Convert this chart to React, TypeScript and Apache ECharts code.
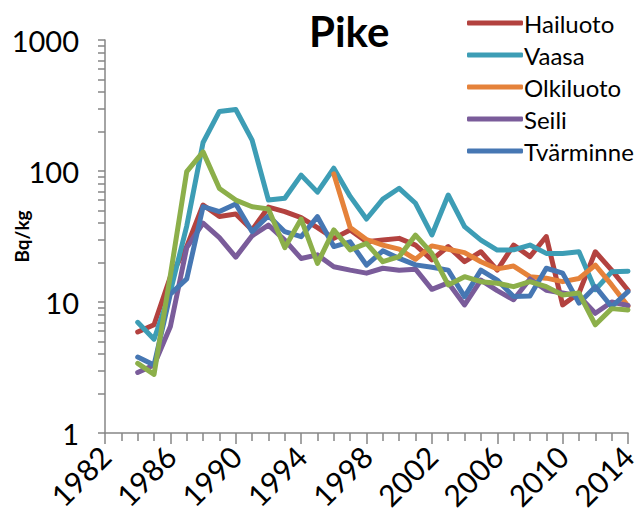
import React, { useEffect, useRef } from "react";
import * as echarts from "echarts";

const years = [
  1984, 1985, 1986, 1987, 1988, 1989, 1990, 1991, 1992, 1993, 1994, 1995, 1996, 1997, 1998, 1999,
  2000, 2001, 2002, 2003, 2004, 2005, 2006, 2007, 2008, 2009, 2010, 2011, 2012, 2013, 2014,
];

const hailuoto = [
  5.9, 6.7, 15.6, 26.5, 55, 45, 47, 35.5, 53, 49, 44, 37, 30.6, 35.4, 28.8, 29.7,
  30.6, 27.2, 21, 26.5, 20.3, 24.2, 17.5, 27.2, 22.2, 31.6, 9.5, 11.7, 24.2, 17.5, 12.3,
];
const vaasa = [
  7.0, 5.2, 12, 38, 165, 285, 295, 172, 60, 62, 93, 69, 105, 64, 43, 61,
  73.8, 56.7, 32.5, 65.6, 37.6, 29.7, 24.9, 25, 27.2, 23.5, 23.5, 24.2, 12.4, 17, 17.2,
];
const olkiluoto = [
  null, null, null, null, null, null, null, null, null, null, null, null, 95, 37, 30, 27.2,
  25.3, 21.2, 26.8, 25.3, 23.8, 20.3, 17.9, 18.8, 15.6, 15.2, 14.3, 15.1, 19.1, 13.5, 9.3,
];
const seili = [
  2.9, 3.3, 6.5, 26, 40, 31, 22, 32, 38.6, 29.7, 21.5, 22.9, 18.6, 17.5, 16.6, 18.1,
  17.5, 17.8, 12.5, 14, 9.5, 14.7, 12.2, 10.4, 15, 12.3, 11.7, 11.1, 8.2, 10, 9.4,
];
const tvarminne = [
  3.8, 3.3, 11.5, 15, 53.4, 49, 56, 34.4, 45.5, 34.4, 31.5, 44.8, 26.5, 28.8, 19.1, 24.6,
  21.5, 19.2, 18.4, 17.5, 11, 17.5, 14.7, 11, 11.1, 18.1, 16.6, 9.8, 13.1, 9.2, 12,
];
const unlabelled = [
  3.4, 2.8, 16, 99, 140, 73.6, 60, 53.4, 51.2, 26, 43, 19.7, 35.5, 25, 28, 20.3,
  22.2, 32.4, 23.5, 13.5, 15.6, 14.3, 13.9, 13.1, 14.3, 13.1, 11.3, 11.7, 6.7, 8.9, 8.7,
];

const legendNames = ["Hailuoto", "Vaasa", "Olkiluoto", "Seili", "Tvärminne"];
const yLabelValues = [1, 10, 100, 1000];
const yTickValues = [
  1, 2, 3, 4, 5, 6, 7, 8, 9, 10, 20, 30, 40, 50, 60, 70, 80, 90, 100,
  200, 300, 400, 500, 600, 700, 800, 900, 1000,
];

const FONT = "Lato, Carlito, 'Open Sans', sans-serif";
const AXIS_COLOR = "#868686";

function lineSeries(name: string, values: (number | null)[], color: string) {
  return {
    name,
    type: "line",
    data: years
      .map((y, i) => [y, values[i]])
      .filter((d) => d[1] !== null),
    showSymbol: false,
    symbol: "none",
    lineStyle: { width: 5, color, cap: "round", join: "round" },
    itemStyle: { color },
  };
}

export default function App() {
  const ref = useRef<HTMLDivElement>(null);
  useEffect(() => {
    const chart = echarts.init(ref.current!, null, { renderer: "svg" });
    chart.setOption({
      animation: false,
      backgroundColor: "#ffffff",
      title: {
        text: "Pike",
        left: 304,
        top: 5,
        textStyle: { fontFamily: FONT, fontSize: 42, fontWeight: "bold", color: "#000" },
      },
      legend: {
        data: legendNames,
        orient: "vertical",
        left: 462,
        top: 5,
        icon: "roundRect",
        itemWidth: 56,
        itemHeight: 5,
        itemGap: 6,
        textStyle: { fontFamily: FONT, fontSize: 24, color: "#000", lineHeight: 26, padding: [0, 0, 0, -4] },
      },
      grid: { left: 105, right: 13, top: 40, bottom: 99, containLabel: false, outerBoundsMode: "none" },
      xAxis: {
        type: "value",
        min: 1982,
        max: 2014,
        interval: 4,
        axisLine: { lineStyle: { color: AXIS_COLOR, width: 1.5 } },
        axisTick: { length: 11, lineStyle: { color: AXIS_COLOR, width: 1.5 } },
        minorTick: { show: true, splitNumber: 4, length: 8, lineStyle: { color: AXIS_COLOR, width: 1.5 } },
        splitLine: { show: false },
        minorSplitLine: { show: false },
        axisLabel: {
          rotate: 45,
          margin: 18,
          fontFamily: FONT,
          fontSize: 30,
          color: "#000",
          formatter: (v: number) => String(v),
        },
      },
      yAxis: {
        type: "log",
        logBase: 10,
        min: 1,
        max: 1000,
        name: "Bq/kg",
        nameLocation: "middle",
        nameGap: 74,
        nameMoveOverlap: false,
        nameTextStyle: { fontFamily: FONT, fontSize: 19, fontWeight: "bold", color: "#000" },
        axisLine: { show: true, lineStyle: { color: AXIS_COLOR, width: 1.5 } },
        axisTick: { show: true, length: 7, customValues: yTickValues, lineStyle: { color: AXIS_COLOR, width: 1.5 } },
        splitLine: { show: false },
        axisLabel: {
          customValues: yLabelValues,
          margin: 26,
          fontFamily: FONT,
          fontSize: 29,
          color: "#000",
          formatter: (v: number) => String(v),
        },
      },
      series: [
        lineSeries("Hailuoto", hailuoto, "#B3423F"),
        lineSeries("Vaasa", vaasa, "#3D9DB5"),
        lineSeries("Olkiluoto", olkiluoto, "#E5823A"),
        lineSeries("Seili", seili, "#7A5C9A"),
        lineSeries("Tvärminne", tvarminne, "#4677B3"),
        lineSeries("Unlabelled", unlabelled, "#8CAF4A"),
      ],
    });
    return () => chart.dispose();
  }, []);
  return (
    <div
      ref={ref}
      style={{ position: "fixed", left: 0, top: 0, width: 641, height: 532 }}
    />
  );
}
